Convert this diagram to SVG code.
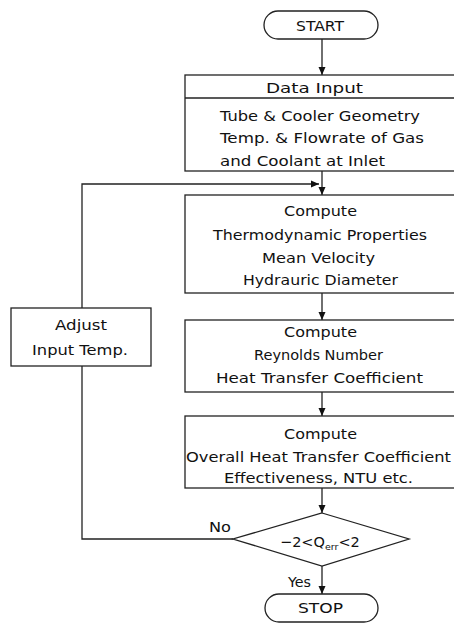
<svg xmlns="http://www.w3.org/2000/svg" width="454" height="626" viewBox="0 0 454 626">
<style>
.box{fill:#fff;stroke:#222;stroke-width:1.3}
.ln{fill:none;stroke:#222;stroke-width:1.3}
text{font-family:"DejaVu Sans","Liberation Sans",sans-serif;font-size:14.5px;fill:#111}
</style>
<defs>
<marker id="ah" viewBox="0 0 8 8" refX="8" refY="4" markerWidth="8" markerHeight="8" markerUnits="userSpaceOnUse" orient="auto">
<path d="M0,0.5 L8,4 L0,7.5 z" fill="#111"/>
</marker>
</defs>
<rect width="454" height="626" fill="#fff"/>
<g id="connectors">
<line class="ln" x1="322" y1="39" x2="322" y2="75" marker-end="url(#ah)"/>
<line class="ln" x1="322" y1="171" x2="322" y2="195" marker-end="url(#ah)"/>
<line class="ln" x1="322" y1="293" x2="322" y2="320" marker-end="url(#ah)"/>
<line class="ln" x1="322" y1="392" x2="322" y2="416" marker-end="url(#ah)"/>
<line class="ln" x1="322" y1="488" x2="322" y2="513" marker-end="url(#ah)"/>
<line class="ln" x1="322" y1="566" x2="322" y2="594" marker-end="url(#ah)"/>
<polyline class="ln" points="233,539 82,539 82,184 319,184" marker-end="url(#ah)"/>
<text x="209" y="532" textLength="22" lengthAdjust="spacingAndGlyphs">No</text>
<text x="288" y="587" textLength="23" lengthAdjust="spacingAndGlyphs">Yes</text>
</g>
<g id="start">
<rect class="box" x="264" y="11" width="114" height="28" rx="14"/>
<text x="296" y="31" textLength="48" lengthAdjust="spacingAndGlyphs">START</text>
</g>
<g id="data-input">
<rect class="box" x="185" y="75" width="280" height="96"/>
<line class="ln" x1="185" y1="98" x2="465" y2="98"/>
<text x="266" y="93" textLength="97" lengthAdjust="spacingAndGlyphs">Data Input</text>
<text x="220" y="121" textLength="200" lengthAdjust="spacingAndGlyphs">Tube &amp; Cooler Geometry</text>
<text x="220" y="143" textLength="204" lengthAdjust="spacingAndGlyphs">Temp. &amp; Flowrate of Gas</text>
<text x="220" y="166" textLength="165" lengthAdjust="spacingAndGlyphs">and Coolant at Inlet</text>
</g>
<g id="compute1">
<rect class="box" x="185" y="195" width="280" height="98"/>
<text x="284" y="216" textLength="73" lengthAdjust="spacingAndGlyphs">Compute</text>
<text x="213" y="240" textLength="214" lengthAdjust="spacingAndGlyphs">Thermodynamic Properties</text>
<text x="262" y="263" textLength="113" lengthAdjust="spacingAndGlyphs">Mean Velocity</text>
<text x="243" y="285" textLength="155" lengthAdjust="spacingAndGlyphs">Hydrauric Diameter</text>
</g>
<g id="compute2">
<rect class="box" x="185" y="320" width="280" height="72"/>
<text x="284" y="337" textLength="73" lengthAdjust="spacingAndGlyphs">Compute</text>
<text x="254" y="360" textLength="129" lengthAdjust="spacingAndGlyphs">Reynolds Number</text>
<text x="216" y="383" textLength="207" lengthAdjust="spacingAndGlyphs">Heat Transfer Coefficient</text>
</g>
<g id="compute3">
<rect class="box" x="185" y="416" width="280" height="72"/>
<text x="284" y="439" textLength="73" lengthAdjust="spacingAndGlyphs">Compute</text>
<text x="186" y="462" textLength="265" lengthAdjust="spacingAndGlyphs">Overall Heat Transfer Coefficient</text>
<text x="224" y="483" textLength="189" lengthAdjust="spacingAndGlyphs">Effectiveness, NTU etc.</text>
</g>
<g id="decision">
<polygon class="box" points="322,513 409,539 322,566 233,539"/>
<text x="280" y="547">−2&lt;Q<tspan style="font-size:9.5px" dy="3">err</tspan><tspan dy="-3">&lt;2</tspan></text>
</g>
<g id="adjust">
<rect class="box" x="11" y="308" width="140" height="58"/>
<text x="55" y="330" textLength="52" lengthAdjust="spacingAndGlyphs">Adjust</text>
<text x="32" y="355" textLength="96" lengthAdjust="spacingAndGlyphs">Input Temp.</text>
</g>
<g id="stop">
<rect class="box" x="265" y="594" width="113" height="28" rx="14"/>
<text x="298" y="613" textLength="45" lengthAdjust="spacingAndGlyphs">STOP</text>
</g>
</svg>
